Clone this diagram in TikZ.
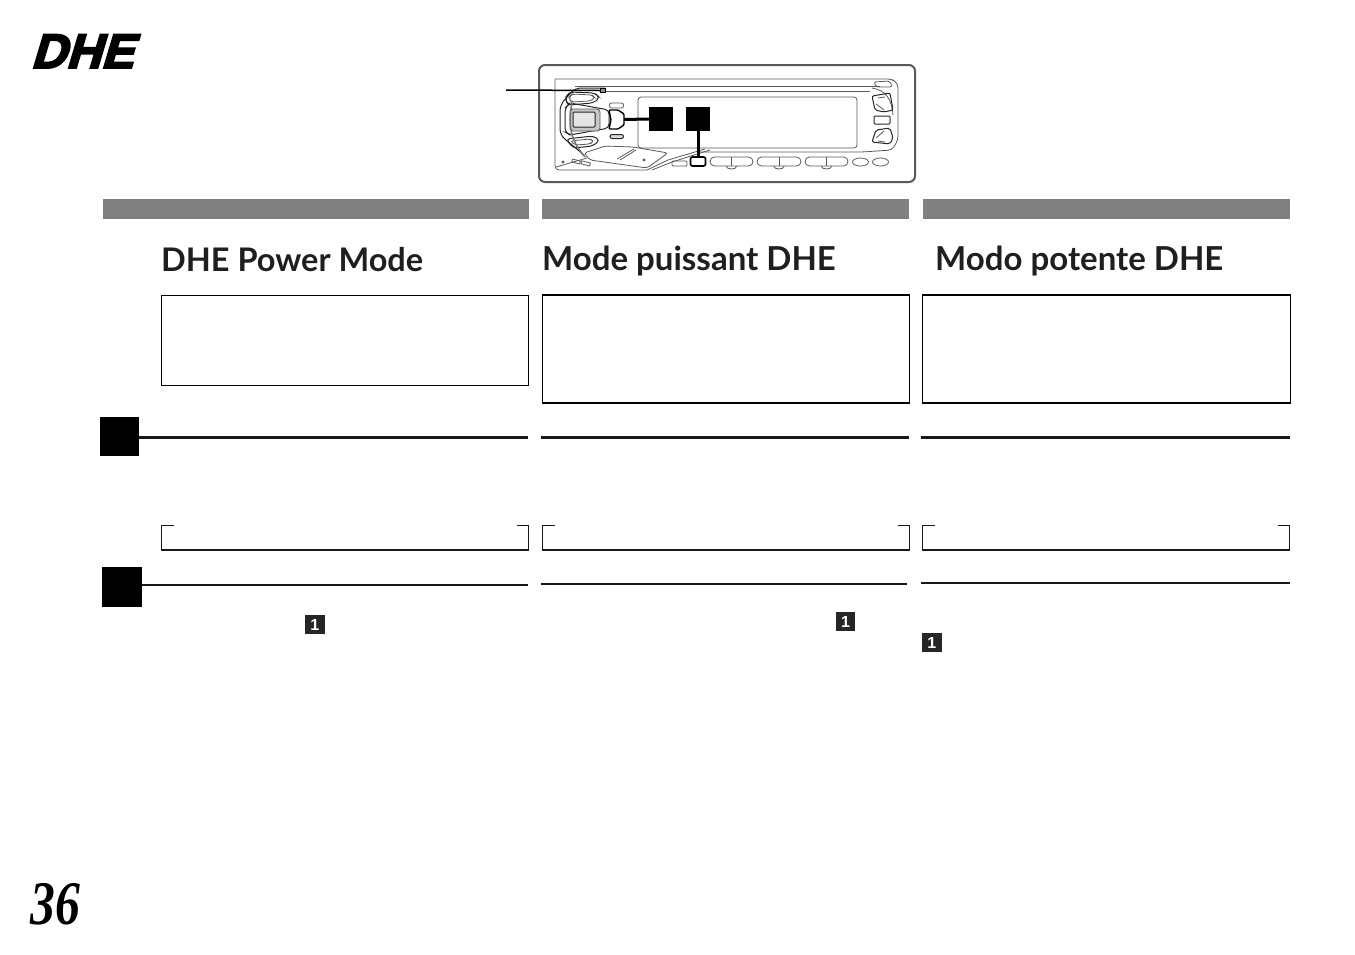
\documentclass[tikz,border=0pt]{standalone}
\usepackage{fontspec}
\setmainfont{Liberation Sans}
\newfontfamily\titlefont{Lato}[BoldFont={Lato Bold}]
\newfontfamily\logofont{Liberation Sans}[BoldFeatures={FakeSlant=0.3,FakeBold=4}]
\newfontfamily\numfont{Liberation Serif}[BoldItalicFeatures={FakeStretch=0.8}]
\newfontfamily\keyfont{Liberation Sans}
\begin{document}
\begin{tikzpicture}[x=1pt,y=-1pt,
  titletext/.style={anchor=base west,inner sep=0pt,font=\titlefont\bfseries\fontsize{33}{33}\selectfont,text=black!88},
  bar/.style={fill=black!50,draw=none},
  notebox/.style={draw=black,line width=1pt},
  noteboxb/.style={draw=black,line width=1.4pt},
  square/.style={fill=black,draw=none,inner sep=0pt,minimum size=#1},
  rulethick/.style={line width=3pt,draw=black!90},
  rulemid/.style={line width=2pt,draw=black!90},
  bracket/.style={draw=black!90,line width=1pt},
  bracketb/.style={draw=black!90,line width=2pt},
  minikey/.style={fill=black!85,inner sep=0pt,minimum size=19.5pt,text=white,font=\keyfont\bfseries\fontsize{16}{16}\selectfont},
  panel/.style={draw=black!65,line width=.8pt},
  panelk/.style={draw=black!85,line width=1pt},
  callout/.style={line width=3pt,draw=black}]
\useasboundingbox (0,0) rectangle (1355,954);
% logo and page number
\node[anchor=base west,inner sep=0pt,font=\logofont\bfseries\fontsize{48.5}{48.5}\selectfont] (logo) at (30.5,68) {DHE};
\node[anchor=base west,inner sep=0pt,font=\numfont\bfseries\itshape\fontsize{62}{62}\selectfont] (page) at (30,924) {36};
% head unit
\draw[draw=black!65,line width=2pt,rounded corners=6pt] (539,65) rectangle (915,182);
\draw[panel,rounded corners=4pt] (555,79) -- (892,79) -- (898,84) -- (898,140) -- (892,150) -- (862,152) -- (700,152);
\draw[panel,rounded corners=4pt] (555,79) -- (555,170) -- (647,170);
\draw[panel] (575,86) -- (880,86);
\draw[panel] (606,91) -- (870,91);
\draw[panel,rounded corners=3pt] (638,97) rectangle (857,148);
% left cluster
\draw[panelk,rounded corners=6pt] (605,88) -- (575,88) -- (560,105) -- (560,135) -- (584,155);
\draw[panelk,rounded corners=4pt] (565,98) -- (570,92) -- (595,93) -- (600,98) -- (593,103) -- (568,105) -- cycle;
\draw[panel,rounded corners=3pt] (569,97) -- (572,94) -- (592,95) -- (595,98) -- (590,101) -- (571,102) -- cycle;
\draw[panelk,rounded corners=4pt] (565,108) -- (570,103) -- (609,110) -- (609,128) -- (570,135) -- (565,132) -- cycle;
\draw[panel,rounded corners=3pt,fill=black!22] (570,109) rectangle (600,131);
\draw[panelk,fill=black!10,rounded corners=1pt] (573,112) rectangle (595,127);
\draw[panelk,rounded corners=4pt] (566,139) -- (593,136) -- (600,140) -- (593,146) -- (573,148) -- cycle;
\draw[panel,rounded corners=3pt] (570,141) -- (590,139) -- (594,141) -- (590,144) -- (575,145) -- cycle;
\draw[black!55,line width=1.5pt] (572,102) .. controls (568,125) and (570,140) .. (585,157);
\draw[panel,rounded corners=2pt] (609.5,103) rectangle (623.5,108);
\draw[panelk,rounded corners=2pt,fill=black!15] (610,134.5) rectangle (623.5,138.5);
\draw[panel,rounded corners=3pt] (584,153) -- (605,146) -- (633,147) -- (668,153) -- (647,168) -- (590,160) -- cycle;
\draw[panel] (617,159) -- (634,149);
\draw[panel] (620,160) -- (636,150);
\draw[panel] (587,158) -- (556,167);
\draw[panel] (647,170) -- (668,160) -- (705,149);
\draw[panel] (652,170) -- (672,162) -- (710,150);
\draw[panel,rounded corners=1pt] (672,161) rectangle (687,166);
\draw[panel,rotate around={-15:(576,162)}] (572,160) rectangle (580,163);
\draw[panel,rotate around={-15:(586,164)}] (581,162) rectangle (590,165);
\draw[panel] (563,162) circle (1pt);
\draw[panel] (644,160) circle (1pt);
% right cluster
\draw[panel,rounded corners=2pt] (874,82) -- (890,81) -- (892,87) -- (876,87) -- cycle;
\draw[panel] (872,88) .. controls (886,90) and (892,100) .. (893,115);
\draw[panelk,rounded corners=2pt] (872,96) -- (890,93) -- (893,110) -- (884,112) -- (875,110) -- cycle;
\draw[panel] (876,104) -- (884,110);
\draw[panel] (878,98) -- (885,97);
\draw[panelk,rounded corners=1pt] (874,116) rectangle (890,124);
\draw[panelk,rounded corners=2pt] (876,130) -- (890,128) -- (893,138) -- (890,144) -- (872,142) -- cycle;
\draw[panel] (876,138) -- (884,131);
\draw[panel] (878,141) -- (885,142);
% bottom keys
\foreach \xa/\xb in {710/753,757/801,805/848}{
  \draw[panel] ({(\xa+\xb)/2},166.5) ellipse (5pt and 2.5pt);
  \draw[panel,fill=white,rounded corners=4.5pt] (\xa,157) rectangle (\xb,166);
  \draw[panel] ({(\xa+\xb)/2},157) -- ({(\xa+\xb)/2},166);
}
\draw[panel] (860.5,162) ellipse (8pt and 4pt);
\draw[panel] (880.5,162) ellipse (8pt and 4pt);
% callouts
\node[square=24pt] (sqA) at (661,119) {};
\node[square=24pt] (sqB) at (698,119) {};
\node[draw=black,line width=1.6pt,fill=white,inner sep=0pt,minimum width=15pt,minimum height=9pt,rounded corners=2pt] (keyB) at (698,161.5) {};
\draw[callout] (sqB.south) -- (keyB.north);
\coordinate (keyAe) at (624,119.5);
\draw[draw=black,line width=1.4pt,fill=white,rounded corners=1pt] (609,110) -- (618,110) -- (624,114) -- (624,125) -- (618,129) -- (609,129) -- (611,120) -- cycle;
\draw[callout] (sqA.west) -- (keyAe);
\node[draw=black,fill=black!45,line width=1.2pt,inner sep=0pt,minimum width=5pt,minimum height=4pt] (keyC) at (603,90.5) {};
\coordinate (calloutC) at (506,90);
\draw[draw=black,line width=1.5pt] (calloutC) -- (keyC.west);
% header bars
\fill[bar] (103,199) rectangle (529,219);
\fill[bar] (542,199) rectangle (909,219);
\fill[bar] (923,199) rectangle (1290,219);
% titles
\node[titletext,font=\titlefont\bfseries\fontsize{32.5}{33}\selectfont] (t1) at (161,271) {DHE Power Mode};
\node[titletext] (t2) at (542,270) {Mode puissant DHE};
\node[titletext] (t3) at (935,270) {Modo potente DHE};
% note boxes
\draw[notebox] (161.5,295) rectangle (528.5,385.5);
\draw[noteboxb] (542.5,295) rectangle (909.5,403);
\draw[noteboxb] (922.5,295) rectangle (1290.5,403);
% step 1
\node[square=39pt] (s1) at (119.5,436.5) {};
\coordinate (e1a) at (528,437);
\draw[rulethick] (s1.east |- e1a) -- (e1a);
\draw[rulethick] (541,437) -- (909,437);
\draw[rulethick] (921,437) -- (1290,437);
% brackets
\foreach \xa/\xb in {161.5/528.5,542.5/909.5,922.5/1289.5}{
  \draw[bracket] (\xa+12,525) -- (\xa,525) -- (\xa,550);
  \draw[bracket] (\xb-12,525) -- (\xb,525) -- (\xb,550);
  \draw[bracketb] (\xa-.5,550) -- (\xb+.5,550);
}
% step 2
\node[square=40pt] (s2) at (122,586.5) {};
\coordinate (e2a) at (528,585);
\draw[rulemid] (s2.east |- e2a) -- (e2a);
\draw[rulemid] (541,584) -- (907,584);
\draw[rulemid] (921,583) -- (1290,583);
% key marks
\node[minikey] (k1) at (314.75,624.5) {1};
\node[minikey] (k2) at (845.5,621.5) {1};
\node[minikey] (k3) at (931.75,642.5) {1};
\end{tikzpicture}
\end{document}
